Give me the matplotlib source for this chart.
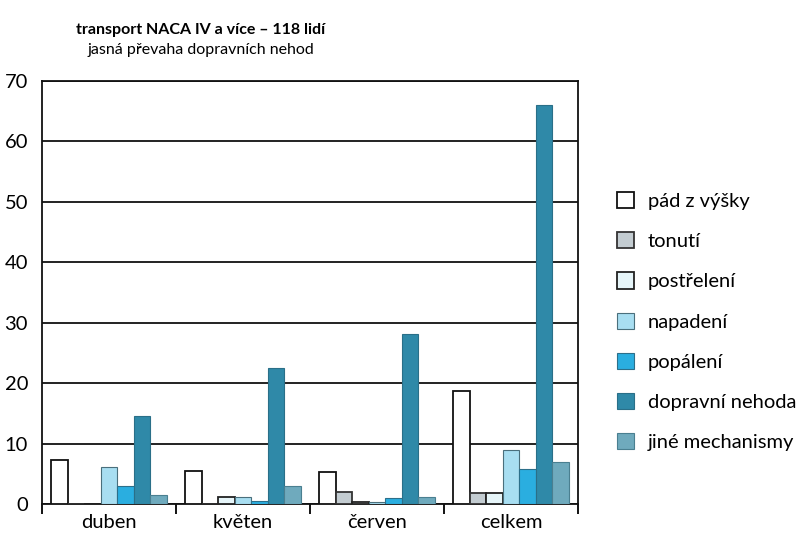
import matplotlib

matplotlib.use("Agg")
import matplotlib.pyplot as plt
import numpy as np

plt.rcParams["font.family"] = ["Lato", "DejaVu Sans"]

groups = ["duben", "květen", "červen", "celkem"]
series = ["pád z výšky", "tonutí", "postřelení", "napadení",
          "popálení", "dopravní nehoda", "jiné mechanismy"]
values = {
    "pád z výšky":     [7.3, 5.4, 5.3, 18.7],
    "tonutí":          [0.0, 0.0, 2.0, 1.8],
    "postřelení":      [0.0, 1.1, 0.4, 1.8],
    "napadení":        [6.2, 1.1, 0.4, 8.9],
    "popálení":        [3.0, 0.5, 1.0, 5.8],
    "dopravní nehoda": [14.6, 22.5, 28.1, 66.0],
    "jiné mechanismy": [1.5, 3.0, 1.2, 7.0],
}
colors = ["#ffffff", "#c3ccd1", "#e6f5f9", "#a8def1",
          "#2aaee0", "#2f89a8", "#6faabd"]
edges = ["#111111", "#333333", "#222222", "#4a6f7c",
         "#2c6f8a", "#2a6f88", "#4a7f90"]

fig = plt.figure(figsize=(7.98, 5.47), dpi=100)
ax = fig.add_axes([0.0526, 0.0786, 0.6717, 0.7734])

x = np.arange(len(groups))
w = 0.123
for i, s in enumerate(series):
    off = (i - 3) * w
    ax.bar(x + off, values[s], width=w, color=colors[i], edgecolor=edges[i],
           linewidth=1.3 if i in (0, 1, 2) else 0.8, label=s, zorder=3)

ax.set_xlim(-0.5, 3.5)
ax.set_ylim(0, 70)
ax.set_yticks(range(0, 71, 10))
ax.yaxis.grid(True, color="#111111", linewidth=1.3, zorder=1)
ax.tick_params(axis="y", length=0, labelsize=14.5, pad=10)
ax.set_xticks([-0.5, 0.5, 1.5, 2.5, 3.5])
ax.set_xticklabels([])
ax.set_xticks(x, minor=True)
ax.set_xticklabels(groups, minor=True, fontsize=14.5)
ax.tick_params(axis="x", which="major", length=7, width=1.3, direction="out")
ax.tick_params(axis="x", which="minor", length=0, pad=7)
for sp in ax.spines.values():
    sp.set_linewidth(1.3)
    sp.set_color("#111111")

fig.legend(*ax.get_legend_handles_labels(), loc="center left",
           bbox_to_anchor=(0.773, 0.412), frameon=False, borderpad=0,
           borderaxespad=0, fontsize=14.5, labelspacing=1.1,
           handlelength=0.85, handleheight=0.85, handletextpad=0.7)

fig.text(0.252, 0.937, "transport NACA IV a více – 118 lidí", ha="center",
         fontsize=11.5, fontweight="bold")
fig.text(0.252, 0.902, "jasná převaha dopravních nehod", ha="center",
         fontsize=11.5)

fig.savefig("out.png", dpi=100)
